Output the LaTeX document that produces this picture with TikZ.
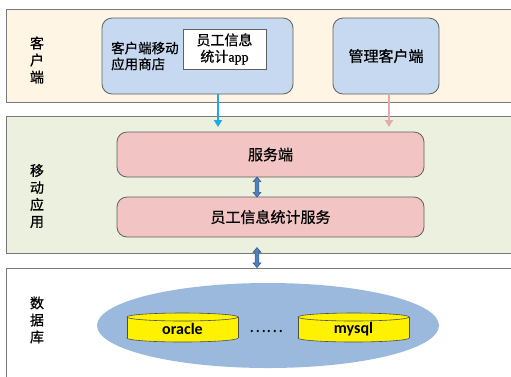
\documentclass[tikz,border=0pt]{standalone}
\usepackage{fontspec}
\setmainfont[FakeBold=0.7]{Noto Sans CJK SC}
\newfontfamily\latb{Carlito}
\newfontfamily\serifapp[FakeBold=0.7]{Liberation Serif}
\usetikzlibrary{shapes.geometric,shapes.arrows,arrows.meta}
\definecolor{beige}{RGB}{255,245,229}
\definecolor{lgreen}{RGB}{235,241,222}
\definecolor{lblue}{RGB}{198,217,240}
\definecolor{lpink}{RGB}{242,196,196}
\definecolor{ellblue}{RGB}{155,185,220}
\definecolor{bordergray}{RGB}{120,120,120}
\definecolor{arrblue}{RGB}{79,129,189}
\definecolor{arrdark}{RGB}{56,93,138}
\definecolor{cyanarr}{RGB}{30,170,230}
\definecolor{pinkarr}{RGB}{230,170,170}
\tikzset{
  band/.style={draw=bordergray, line width=1.2pt, rectangle, anchor=north west, inner sep=0pt},
  rbox/.style={draw=bordergray!80!black, line width=0.8pt, rectangle, rounded corners=10pt, inner sep=0pt},
  sidelabel/.style={align=center, font=\fontsize{14pt}{17pt}\selectfont},
  boxtext/.style={font=\fontsize{15pt}{18pt}\selectfont},
  darr/.style={double arrow, shape border rotate=90, draw=arrdark, fill=arrblue, line width=0.6pt,
    minimum height=20pt, inner sep=1.6pt, double arrow head extend=2pt, double arrow tip angle=80},
  flowarr/.style={line width=2.4pt, -{Triangle[width=8pt,length=7pt]}},
  cyl/.style={draw=black!70, line width=0.6pt, fill=yellow},
}
\begin{document}
\begin{tikzpicture}[x=1pt,y=-1pt]
\useasboundingbox (0,0) rectangle (511,376);
\fill[white] (0,0) rectangle (511,376);
% bands
\node[band, fill=beige, minimum width=530pt, minimum height=93pt] (b1) at (6,9) {};
\node[band, fill=lgreen, minimum width=530pt, minimum height=137pt] (b2) at (6,116) {};
\node[band, fill=white, minimum width=530pt, minimum height=130pt] (b3) at (6,268) {};
% side labels
\node[sidelabel] (l1) at (37,60) {客\\户\\端};
\node[sidelabel] (l2) at (37,196) {移\\动\\应\\用};
\node[sidelabel] (l3) at (37,320) {数\\据\\库};
% client layer
\node[rbox, fill=lblue, minimum width=191pt, minimum height=76pt] (app) at (197.5,56) {};
\node[anchor=west, align=left, inner sep=0pt, font=\fontsize{13.5pt}{16pt}\selectfont] (apptxt) at (111,56) {客户端移动\\应用商店};
\node[draw=bordergray!80!black, line width=0.8pt, fill=white, minimum width=83pt, minimum height=40pt, inner sep=0pt,
  align=center, font=\fontsize{14pt}{16.5pt}\selectfont] (appin) at (224.5,49) {员工信息\\统计{\serifapp app}};
\node[rbox, fill=lblue, minimum width=106pt, minimum height=76pt, boxtext] (adm) at (386,56) {管理客户端};
% arrows from client
\coordinate (a1) at (218,127);
\coordinate (a2) at (389,127);
\draw[flowarr, cyanarr] (app.south -| a1) -- (a1);
\draw[flowarr, pinkarr] (adm.south -| a2) -- (a2);
% mobile layer
\node[rbox, fill=lpink, minimum width=307pt, minimum height=45pt, boxtext] (srv) at (270.5,154.5) {服务端};
\node[rbox, fill=lpink, minimum width=307pt, minimum height=40pt, boxtext] (stat) at (270.5,217) {员工信息统计服务};
\coordinate (ax) at (257,0);
\path (srv.south -| ax) -- node[darr] (d1) {} (stat.north -| ax);
\path (b2.south -| ax) -- node[darr, yshift=3.5pt] (d2) {} (b3.north -| ax);
% database layer
\node[ellipse, fill=ellblue, minimum width=342pt, minimum height=85pt, inner sep=0pt] (db) at (268,325.5) {};
% oracle cylinder
\filldraw[cyl] (182.5,338) ellipse [x radius=55.5pt, y radius=4pt];
\fill[yellow] (127,317) rectangle (238,338);
\draw[cyl] (127,317) -- (127,338) (238,317) -- (238,338);
\filldraw[cyl] (182.5,317) ellipse [x radius=55.5pt, y radius=4pt];
\node[font=\latb\bfseries\fontsize{16pt}{18pt}\selectfont] (oracle) at (182.5,329) {oracle};
% mysql cylinder
\filldraw[cyl] (353.5,338) ellipse [x radius=55.5pt, y radius=4pt];
\fill[yellow] (298,317) rectangle (409,338);
\draw[cyl] (298,317) -- (298,338) (409,317) -- (409,338);
\filldraw[cyl] (353.5,317) ellipse [x radius=55.5pt, y radius=4pt];
\node[font=\latb\bfseries\fontsize{16pt}{18pt}\selectfont] (mysql) at (353.5,329) {mysql};
\node[font=\fontsize{16pt}{18pt}\selectfont, inner sep=0pt] (dots) at (266,331) {……};
\end{tikzpicture}
\end{document}
